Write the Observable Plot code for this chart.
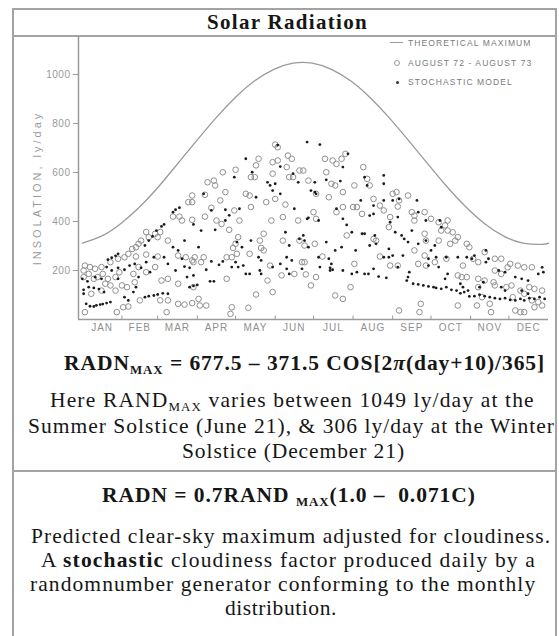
<!DOCTYPE html>
<html><head><meta charset="utf-8">
<script src="https://cdn.jsdelivr.net/npm/d3@7"></script>
<script src="https://cdn.jsdelivr.net/npm/@observablehq/plot@0.6"></script>
<style>
html,body{margin:0;padding:0;background:#fff;}
body{width:559px;height:636px;position:relative;overflow:hidden;font-family:"Liberation Serif",Tinos,"Noto Serif","DejaVu Serif",FreeSerif,"Nimbus Roman","Times New Roman",Times,serif;color:#161616;}
#box{position:absolute;left:12px;top:8px;width:541px;height:700px;border:2px solid #a3a3a3;}
.hr{position:absolute;left:12px;width:545px;height:0;border-top:2px solid #a3a3a3;}
.ln{position:absolute;white-space:nowrap;height:24px;line-height:24px;font-size:21.5px;}
sub{font-size:60%;vertical-align:-0.28em;line-height:0;}
#chart{position:absolute;left:0;top:36px;}
.leg{position:absolute;left:408px;font-family:"Liberation Sans",sans-serif;font-size:8.5px;letter-spacing:1.1px;color:#7a7a7a;height:10px;line-height:10px;white-space:nowrap;}
g[aria-label="x-axis tick label"] text{letter-spacing:1px;}
g[aria-label="y-axis tick label"] text{letter-spacing:0.5px;}
g[aria-label="text"] text{letter-spacing:3px;}
</style></head>
<body>
<div id="box"></div>
<div class="hr" style="top:35px"></div>
<div class="hr" style="top:470px"></div>
<div class="ln" data-l="207" data-r="368" style="top:10px;font-weight:bold;font-size:21px;">Solar Radiation</div>
<div id="chart"></div>
<div style="position:absolute;left:390px;top:42px;width:13px;border-top:1.4px solid #9a9a9a;"></div>
<div style="position:absolute;left:394px;top:60px;width:4px;height:4px;border:1px solid #9a9a9a;border-radius:50%;"></div>
<div style="position:absolute;left:395.5px;top:80.5px;width:3px;height:3px;background:#333;border-radius:50%;"></div>
<div class="leg" style="top:38px">THEORETICAL MAXIMUM</div>
<div class="leg" style="top:58px">AUGUST 72 - AUGUST 73</div>
<div class="leg" style="top:77px">STOCHASTIC MODEL</div>
<div class="ln" data-l="64" data-r="545" style="top:351px;font-weight:bold;">RADN<sub>MAX</sub> = 677.5 – 371.5 COS[2<i>π</i>(day+10)/365]</div>
<div class="ln" data-l="50" data-r="535" style="top:388px;">Here RAND<sub>MAX</sub> varies between 1049 ly/day at the</div>
<div class="ln" data-l="28" data-r="555" style="top:414px;">Summer Solstice (June 21), &amp; 306 ly/day at the Winter</div>
<div class="ln" data-l="182" data-r="405" style="top:439px;">Solstice (December 21)</div>
<div class="ln" data-l="102" data-r="476" style="top:483px;font-weight:bold;">RADN = 0.7RAND <sub>MAX</sub>(1.0 –&nbsp; 0.071C)</div>
<div class="ln" data-l="31" data-r="551" style="top:524px;">Predicted clear-sky maximum adjusted for cloudiness.</div>
<div class="ln" data-l="41" data-r="536" style="top:548px;">A <b>stochastic</b> cloudiness factor produced daily by a</div>
<div class="ln" data-l="30" data-r="536" style="top:572px;">randomnumber generator conforming to the monthly</div>
<div class="ln" data-l="225" data-r="337" style="top:596px;">distribution.</div>
<script>
const months = ["JAN","FEB","MAR","APR","MAY","JUN","JUL","AUG","SEP","OCT","NOV","DEC"];
const monthMid = [15.5,45,74.5,105,135.5,166,196.5,227.5,258,288.5,319,349.5];
const monthStarts = [31,59,90,120,151,181,212,243,273,304,334];
const yTicks = [200,400,600,800,1000];
const theoDays = [0,15,30,45,60,75,90,105,120,135,150,165,180,195,210,225,240,255,270,285,300,315,330,345,360,365];
const theoValues = [312,340,391,460,544,638,733,825,907,974,1021,1046,1046,1021,974,907,825,733,638,545,461,391,340,312,307,312];
const observed = [[110,601],[120,611],[98,560],[103,567],[104,547],[112,520],[108,486],[101,456],[96,509],[86,506],[86,479],[83,479],[76,420],[78,404],[71,420],[86,407],[96,420],[105,404],[109,390],[115,366],[119,445],[120,309],[118,292],[113,254],[95,254],[88,254],[87,234],[81,254],[75,261],[67,322],[59,336],[61,357],[57,350],[52,336],[50,357],[46,322],[44,309],[42,295],[39,288],[36,268],[33,254],[28,248],[22,234],[42,257],[50,265],[59,257],[44,214],[57,214],[50,193],[40,186],[29,193],[26,173],[20,166],[16,186],[12,173],[9,166],[5,186],[1,200],[1,173],[10,207],[15,214],[6,214],[2,220],[18,146],[22,139],[15,118],[7,105],[26,118],[31,139],[35,132],[41,152],[62,159],[67,166],[75,146],[86,241],[93,234],[87,132],[67,78],[61,78],[45,78],[32,50],[36,53],[27,30],[66,30],[75,64],[80,61],[86,67],[92,57],[97,57],[91,84],[117,50],[116,23],[2,30],[113,166],[117,254],
[153,703],[151,714],[138,656],[136,629],[149,642],[153,649],[161,669],[164,656],[160,622],[149,595],[132,581],[135,581],[162,581],[165,581],[170,608],[173,608],[190,656],[196,649],[199,635],[206,676],[203,656],[191,601],[195,554],[198,547],[177,567],[183,513],[193,499],[204,520],[220,622],[213,547],[223,574],[225,547],[212,459],[215,459],[219,431],[228,492],[233,465],[236,445],[240,377],[241,418],[243,513],[128,513],[131,506],[144,479],[151,492],[159,469],[132,459],[148,404],[157,418],[169,404],[181,438],[183,411],[123,404],[122,336],[142,350],[139,322],[157,322],[170,322],[174,302],[182,309],[131,268],[140,292],[142,282],[172,234],[174,234],[188,257],[147,220],[156,180],[166,186],[175,184],[145,159],[183,173],[179,139],[210,132],[198,98],[204,84],[136,102],[149,112],[130,48],[213,227],[228,329],[230,322],[233,257],[241,220],[207,343],[199,438],[204,459],[121,268],
[246,520],[255,506],[248,486],[247,461],[258,438],[260,424],[268,438],[273,411],[260,404],[279,397],[284,384],[286,363],[281,363],[290,356],[292,322],[288,309],[279,322],[294,336],[268,350],[269,322],[301,309],[303,295],[260,282],[268,261],[276,234],[247,220],[263,227],[269,220],[298,220],[306,248],[310,234],[315,275],[323,248],[328,248],[335,227],[341,220],[346,213],[352,213],[323,200],[328,186],[333,213],[294,180],[297,173],[301,173],[310,166],[315,159],[322,152],[323,139],[332,132],[336,139],[350,132],[354,125],[360,118],[343,118],[346,105],[337,91],[352,78],[357,71],[360,57],[354,50],[339,37],[343,30],[346,30],[320,30],[319,64],[313,91],[309,57],[294,57],[265,64],[264,30],[248,37],[310,132],[285,248],[286,404]];
const stochastic = [[3,64],[6,54],[9,53],[11,58],[14,61],[16,63],[19,67],[22,71],[1,121],[5,132],[9,129],[13,124],[17,112],[0,166],[4,156],[10,173],[15,166],[20,244],[23,252],[26,260],[28,268],[19,214],[23,200],[28,211],[33,203],[37,220],[41,227],[46,211],[50,234],[53,193],[56,254],[33,91],[36,78],[40,112],[44,173],[49,91],[52,95],[56,98],[59,102],[63,107],[67,105],[49,302],[52,322],[55,339],[58,363],[62,380],[64,388],[71,438],[73,448],[76,456],[84,132],[87,137],[90,141],[100,156],[103,156],[80,322],[87,388],[93,363],[104,366],[112,448],[115,425],[119,581],[80,216],[84,211],[97,203],[101,237],[107,223],[110,237],[117,214],[120,234],[71,295],[75,282],[78,248],[82,173],[87,180],[95,513],[73,200],[67,227],[64,254],[91,295],[101,445],[112,404],[1,105],[42,132],[28,166],
[153,712],[176,724],[186,714],[128,656],[133,601],[155,624],[165,595],[169,560],[145,560],[151,554],[147,547],[149,526],[155,513],[136,499],[179,526],[182,520],[183,513],[182,560],[191,570],[202,565],[204,622],[208,676],[166,452],[176,411],[177,415],[185,404],[199,452],[204,411],[207,386],[211,356],[218,486],[221,581],[223,547],[236,588],[236,554],[243,486],[236,486],[228,465],[225,424],[228,431],[241,397],[245,356],[219,350],[221,350],[225,302],[229,343],[230,309],[240,288],[243,261],[240,254],[236,254],[214,282],[159,356],[162,302],[170,329],[173,343],[174,322],[177,295],[191,316],[198,282],[203,295],[185,254],[193,248],[195,227],[194,211],[196,203],[194,200],[164,241],[160,254],[155,227],[149,214],[140,241],[138,254],[132,322],[125,295],[121,316],[122,214],[126,220],[131,186],[128,186],[139,200],[140,186],[162,186],[160,207],[172,207],[186,214],[204,200],[211,186],[221,186],[224,186],[228,207],[232,175],[238,170],[215,193],[123,452],
[262,486],[248,492],[247,418],[258,363],[269,404],[280,404],[281,377],[250,343],[252,329],[255,316],[263,309],[276,302],[273,282],[285,254],[277,254],[271,248],[271,220],[279,214],[251,261],[247,214],[256,193],[255,173],[254,159],[259,146],[263,143],[267,139],[271,135],[275,132],[277,129],[281,125],[285,132],[289,121],[293,118],[296,107],[299,112],[303,94],[307,95],[311,101],[315,95],[319,91],[323,87],[327,84],[331,87],[335,80],[339,78],[343,84],[346,78],[350,87],[354,84],[358,91],[362,84],[296,146],[298,132],[302,118],[311,132],[314,152],[294,254],[301,254],[305,248],[307,261],[316,234],[318,248],[316,282],[326,200],[331,193],[339,173],[344,166],[349,159],[357,186],[361,193],[360,213],[344,118],[349,105],[331,118],[328,132],[286,186],[284,166],[263,438],[269,322]];

const chart = Plot.plot({
  width: 559, height: 300,
  marginLeft: 78, marginRight: 11, marginTop: 0, marginBottom: 17,
  x: {domain: [-3, 365], axis: null},
  y: {domain: [0, 1155], axis: null},
  style: {background: "transparent", color: "#999", fontFamily: "'Liberation Sans', sans-serif", overflow: "visible"},
  marks: [
    Plot.ruleX([-3], {stroke: "#9a9a9a", strokeWidth: 1.5}),
    Plot.ruleY([0], {stroke: "#9a9a9a", strokeWidth: 1.5}),
    Plot.ruleX(monthStarts, {y1: 0, y2: 14, stroke: "#9a9a9a"}),
    Plot.axisY(yTicks, {anchor: "left", tickSize: 5, tickPadding: 3, fontSize: 10, color: "#999", tickFormat: d => String(d)}),
    Plot.axisX(monthMid, {anchor: "bottom", tickSize: 0, tickPadding: 4, fontSize: 10, color: "#8f8f8f", tickFormat: d => months[monthMid.indexOf(d)]}),
    Plot.text(["INSOLATION, ly/day"], {frameAnchor: "left", dx: -41, dy: 10, rotate: -90, textAnchor: "middle", fontSize: 11, fill: "#9a9a9a"}),
    Plot.line(theoDays, {x: d => d, y: (d, i) => theoValues[i], curve: "natural", stroke: "#9a9a9a", strokeWidth: 1.3}),
    Plot.dot(observed, {x: d => d[0], y: d => d[1], r: 2.8, stroke: "#8f8f8f", strokeWidth: 1, fill: "none"}),
    Plot.dot(stochastic, {x: d => d[0], y: d => d[1], r: 1.4, fill: "#1c1c1c", stroke: "none"})
  ]
});
document.getElementById("chart").appendChild(chart);

// fit each text line to its measured extent in the reference
document.querySelectorAll(".ln[data-l]").forEach(el => {
  const l = +el.dataset.l, r = +el.dataset.r;
  el.style.left = l + "px";
  el.style.letterSpacing = "0px";
  const w = el.getBoundingClientRect().width;
  const n = el.textContent.length;
  el.style.letterSpacing = ((r - l - w) / n).toFixed(2) + "px";
});
</script>
</body></html>
